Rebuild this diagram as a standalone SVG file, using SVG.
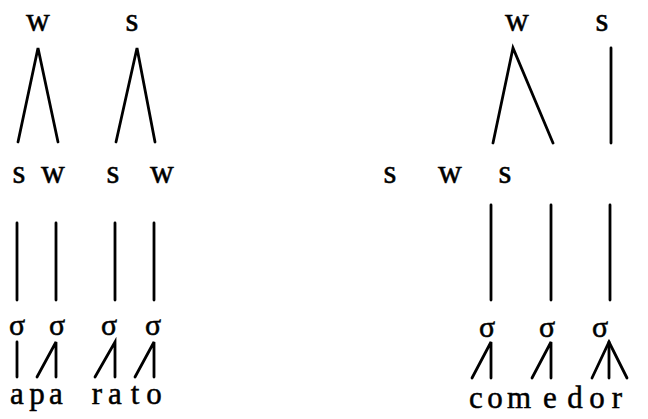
<svg xmlns="http://www.w3.org/2000/svg" width="648" height="419" viewBox="0 0 648 419">
  <style>
    .lbl { font-family: "Liberation Serif", "DejaVu Serif", serif; font-size: 33px; fill: #000; stroke: #000; stroke-width: 0.5; text-anchor: middle; }
    .sig { font-family: "Liberation Serif", "DejaVu Serif", serif; font-size: 30px; fill: #000; stroke: #000; stroke-width: 0.5; text-anchor: middle; }
    .seg { font-family: "Liberation Serif", "DejaVu Serif", serif; font-size: 31px; fill: #000; stroke: #000; stroke-width: 0.5; text-anchor: middle; }
    .ln { stroke: #000; stroke-width: 2.8; stroke-linecap: round; fill: none; }
  </style>
  <rect width="648" height="419" fill="#fff"/>

  <!-- aparato: metrical labels -->
  <g id="aparato-top">
    <text class="lbl" x="38" y="31">w</text>
    <text class="lbl" x="132" y="31">s</text>
  </g>
  <g id="aparato-feet">
    <text class="lbl" x="19" y="183">s</text>
    <text class="lbl" x="53" y="183">w</text>
    <text class="lbl" x="113" y="183">s</text>
    <text class="lbl" x="162" y="183">w</text>
  </g>
  <g id="aparato-syllables">
    <text class="sig" x="17" y="335">σ</text>
    <text class="sig" x="57" y="335">σ</text>
    <text class="sig" x="109" y="335">σ</text>
    <text class="sig" x="153" y="335">σ</text>
  </g>
  <g id="aparato-segments">
    <text class="seg" x="17" y="404">a</text>
    <text class="seg" x="37" y="404">p</text>
    <text class="seg" x="56" y="404">a</text>
    <text class="seg" x="97" y="404">r</text>
    <text class="seg" x="115" y="404">a</text>
    <text class="seg" x="135" y="404">t</text>
    <text class="seg" x="154" y="404">o</text>
  </g>

  <!-- comedor: metrical labels -->
  <g id="comedor-top">
    <text class="lbl" x="517" y="31">w</text>
    <text class="lbl" x="602" y="31">s</text>
  </g>
  <g id="comedor-feet">
    <text class="lbl" x="390" y="183">s</text>
    <text class="lbl" x="450" y="183">w</text>
    <text class="lbl" x="505" y="183">s</text>
  </g>
  <g id="comedor-syllables">
    <text class="sig" x="487" y="337">σ</text>
    <text class="sig" x="547" y="337">σ</text>
    <text class="sig" x="600" y="337">σ</text>
  </g>
  <g id="comedor-segments">
    <text class="seg" x="476" y="408">c</text>
    <text class="seg" x="495" y="408">o</text>
    <text class="seg" x="519" y="408">m</text>
    <text class="seg" x="550" y="408">e</text>
    <text class="seg" x="575" y="408">d</text>
    <text class="seg" x="597" y="408">o</text>
    <text class="seg" x="617" y="408">r</text>
  </g>

  <!-- association lines -->
  <g id="connectors" class="ln">
    <!-- aparato -->
    <path class="ln" d="M18 142 L38 48 L58 142"/>
    <path class="ln" d="M116 142 L137 48 L155 142"/>
    <line class="ln" x1="17" y1="223" x2="17" y2="300"/>
    <line class="ln" x1="56" y1="223" x2="56" y2="300"/>
    <line class="ln" x1="115" y1="223" x2="115" y2="300"/>
    <line class="ln" x1="154" y1="223" x2="154" y2="300"/>
    <line class="ln" x1="17" y1="342" x2="17" y2="377"/>
    <path class="ln" d="M37 377 L56 342 L56 377"/>
    <path class="ln" d="M95 377 L115 342 L115 377"/>
    <path class="ln" d="M135 377 L154 342 L154 377"/>
    <!-- comedor -->
    <path class="ln" d="M493 143 L513 48 L553 143"/>
    <line class="ln" x1="611" y1="48" x2="611" y2="143"/>
    <line class="ln" x1="491" y1="205" x2="491" y2="300"/>
    <line class="ln" x1="551" y1="205" x2="551" y2="300"/>
    <line class="ln" x1="610" y1="205" x2="610" y2="300"/>
    <path class="ln" d="M472 378 L491 342 L491 378"/>
    <path class="ln" d="M532 378 L551 342 L551 378"/>
    <path class="ln" d="M592 378 L609 342 L627 378"/>
    <line class="ln" x1="609" y1="342" x2="609" y2="378"/>
  </g>
</svg>
